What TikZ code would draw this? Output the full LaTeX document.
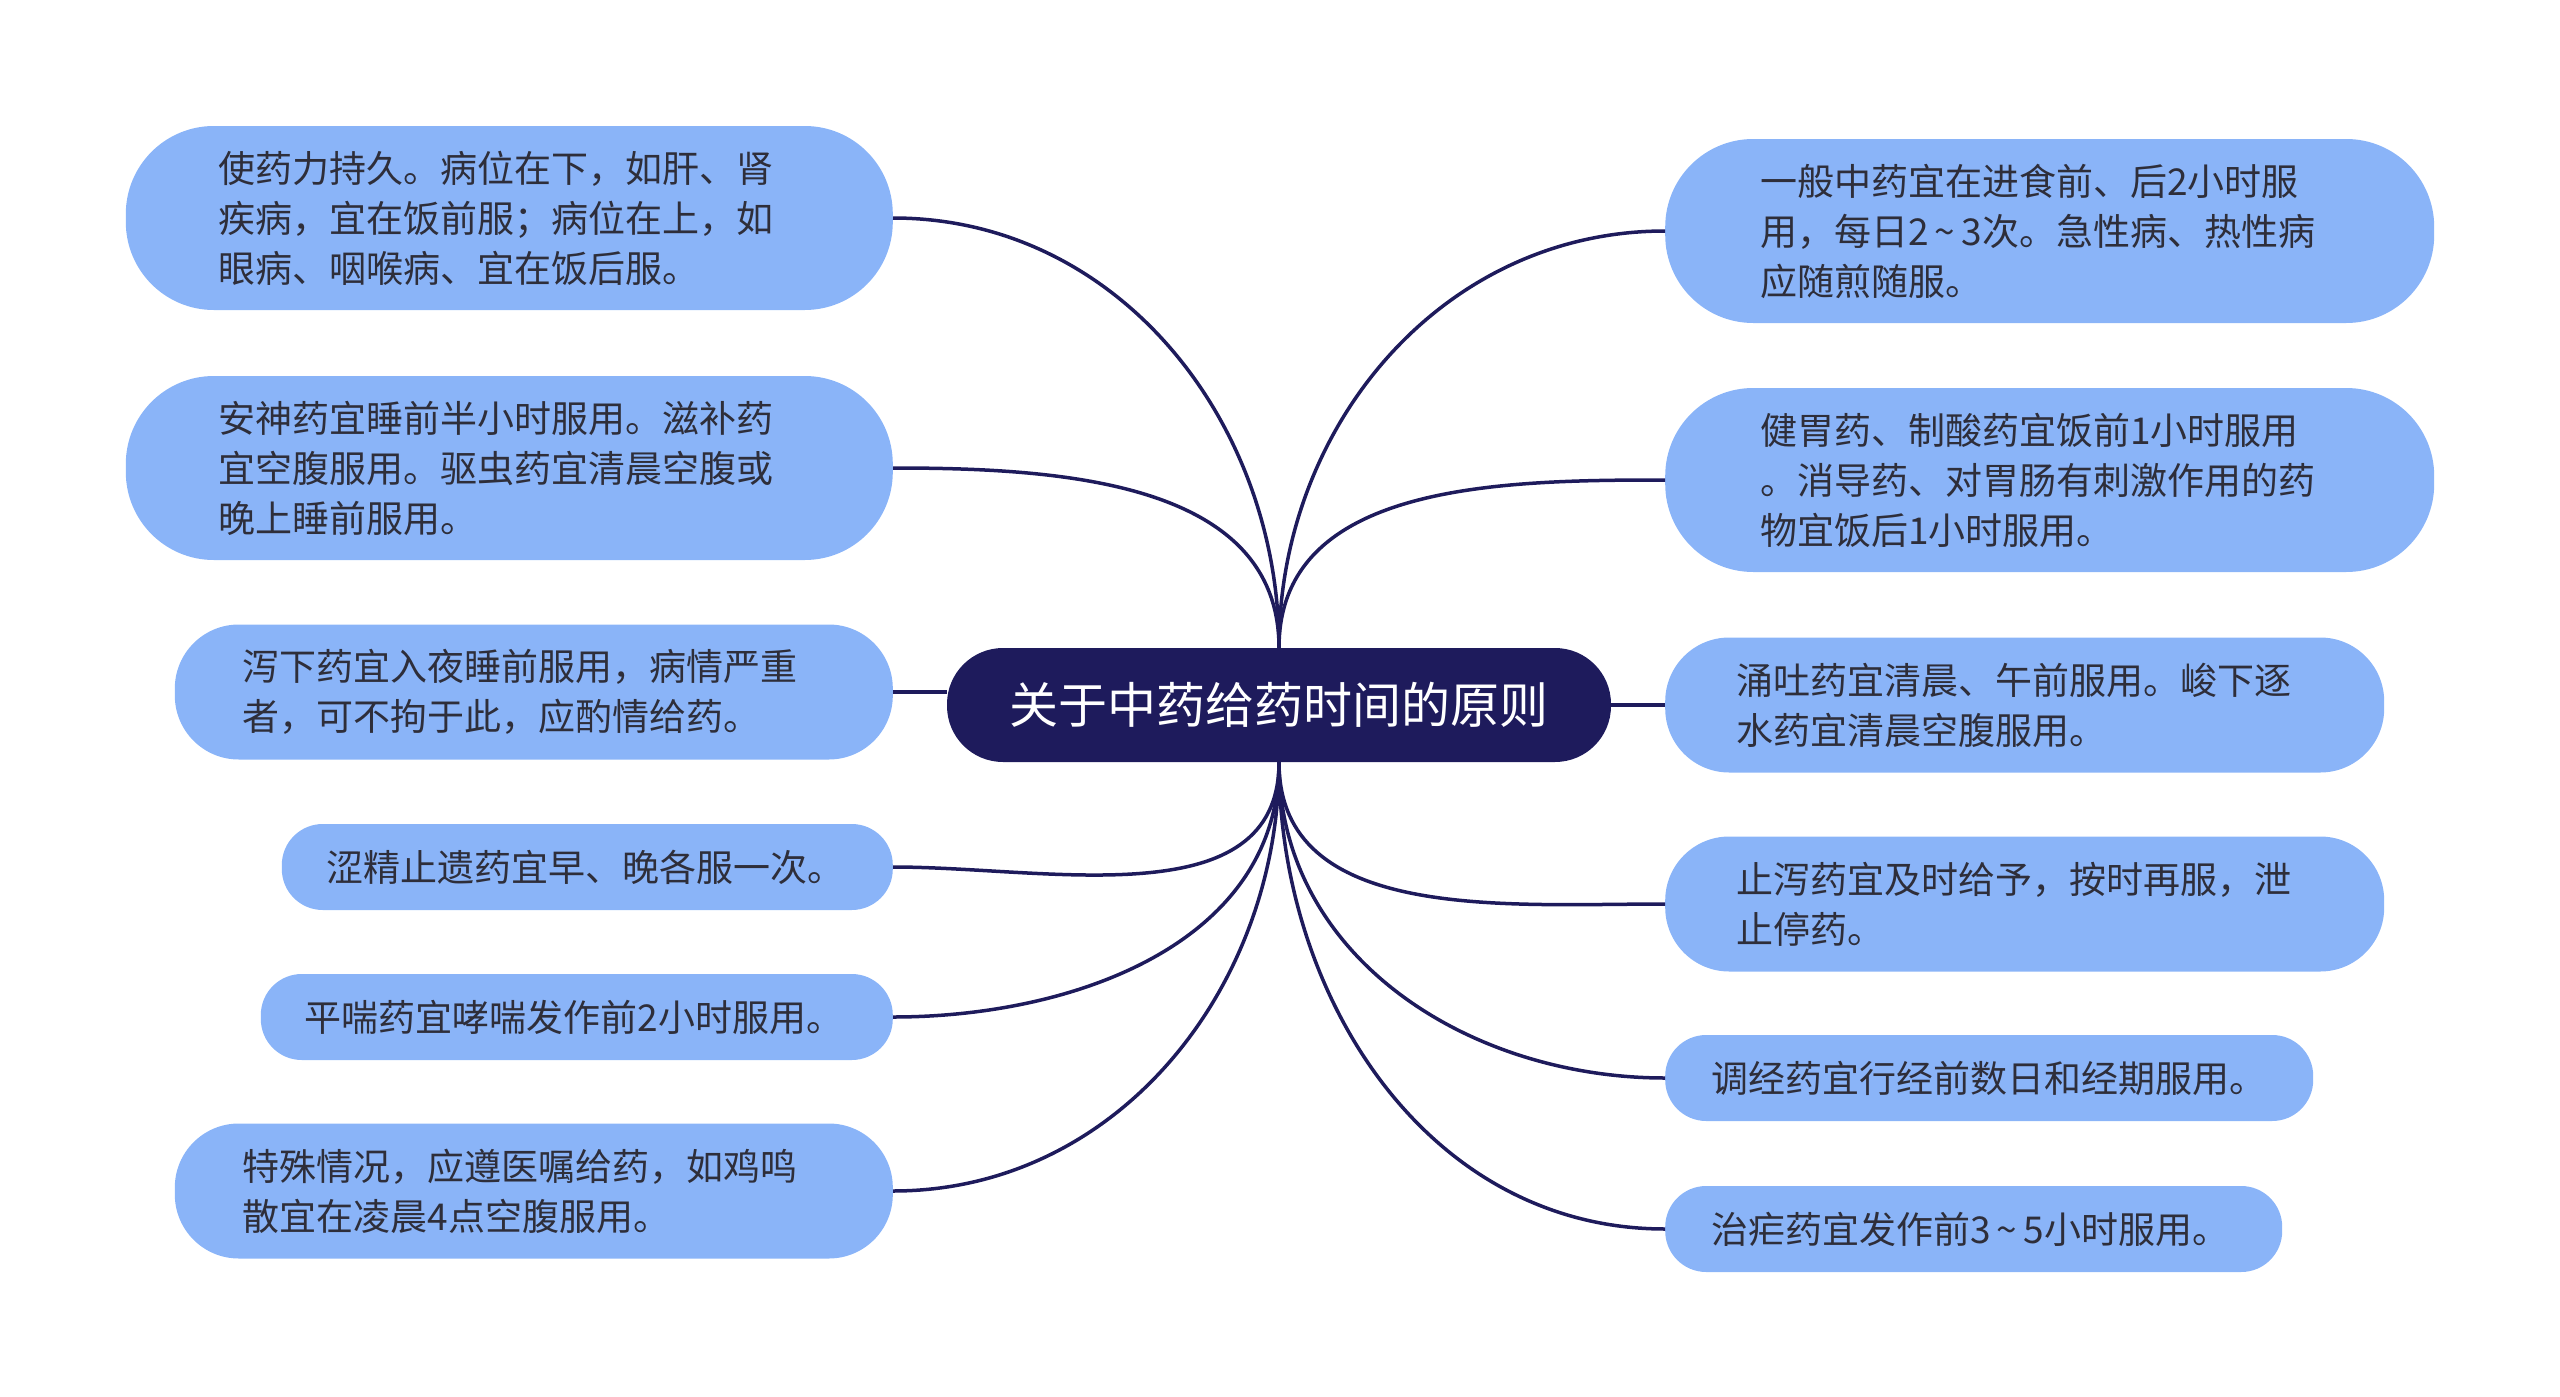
\documentclass[tikz,border=0pt]{standalone}
\usepackage{fontspec}
\setmainfont{Noto Sans CJK SC}
\usepackage{tikz}
\usetikzlibrary{positioning}
\definecolor{tmnavy}{HTML}{1E1B5C}
\definecolor{tmblue}{HTML}{8AB4F8}
\definecolor{tmtext}{HTML}{2E2E3A}

\begin{document}
\begin{tikzpicture}[x=1pt, y=-1pt,
  root/.style={rectangle, rounded corners=56pt, fill=tmnavy, text=white, minimum width=664pt, minimum height=114pt, inner sep=0pt, font=\fontsize{49}{60}\selectfont},
  leaf/.style={rectangle, fill=tmblue, text=tmtext, inner sep=0pt, align=left, font=\fontsize{37}{50}\selectfont},
  leafthree/.style={leaf, minimum height=184pt, rounded corners=88pt},
  leaftwo/.style={leaf, minimum height=135pt, rounded corners=64pt},
  leafone/.style={leaf, minimum height=86pt, rounded corners=41pt},
  link/.style={draw=tmnavy, line width=3.5pt}]
\useasboundingbox (0,0) rectangle (2560,1397);
\node[root] (c) at (1279,705) {关于中药给药时间的原则};
\node[leafthree, anchor=east, minimum width=767pt, text width=581pt] (l1) at (893,218) {使药力持久。病位在下，如肝、肾\\疾病，宜在饭前服；病位在上，如\\眼病、咽喉病、宜在饭后服。};
\node[leafthree, anchor=east, minimum width=767pt, text width=581pt] (l2) at (893,468) {安神药宜睡前半小时服用。滋补药\\宜空腹服用。驱虫药宜清晨空腹或\\晚上睡前服用。};
\node[leaftwo, anchor=east, minimum width=718pt, text width=582pt] (l3) at (893,692) {泻下药宜入夜睡前服用，病情严重\\者，可不拘于此，应酌情给药。};
\node[leafone, anchor=east, minimum width=611pt, text width=521pt] (l4) at (893,867) {涩精止遗药宜早、晚各服一次。};
\node[leafone, anchor=east, minimum width=632pt, text width=544pt] (l5) at (893,1017) {平喘药宜哮喘发作前2小时服用。};
\node[leaftwo, anchor=east, minimum width=718pt, text width=582pt] (l6) at (893,1191) {特殊情况，应遵医嘱给药，如鸡鸣\\散宜在凌晨4点空腹服用。};
\node[leafthree, anchor=west, minimum width=769pt, text width=579pt] (r1) at (1665,231) {一般中药宜在进食前、后2小时服\\用，每日2{\,\textasciitilde\,}3次。急性病、热性病\\应随煎随服。};
\node[leafthree, anchor=west, minimum width=769pt, text width=579pt] (r2) at (1665,480) {健胃药、制酸药宜饭前1小时服用\\。消导药、对胃肠有刺激作用的药\\物宜饭后1小时服用。};
\node[leaftwo, anchor=west, minimum width=719pt, text width=577pt] (r3) at (1665,705) {涌吐药宜清晨、午前服用。峻下逐\\水药宜清晨空腹服用。};
\node[leaftwo, anchor=west, minimum width=719pt, text width=577pt] (r4) at (1665,904) {止泻药宜及时给予，按时再服，泄\\止停药。};
\node[leafone, anchor=west, minimum width=648pt, text width=556pt] (r5) at (1665,1078) {调经药宜行经前数日和经期服用。};
\node[leafone, anchor=west, minimum width=617pt, text width=525pt] (r6) at (1665,1229) {治疟药宜发作前3{\,\textasciitilde\,}5小时服用。};
\draw[link] (c.north) to[out=90, in=0] (l1.east);
\draw[link] (c.north) to[out=90, in=0] (l2.east);
\draw[link] (l3.east) -- (l3.east -| c.west);
\draw[link] (c.south) to[out=-90, in=0] (l4.east);
\draw[link] (c.south) to[out=-90, in=0] (l5.east);
\draw[link] (c.south) to[out=-90, in=0] (l6.east);
\draw[link] (c.north) to[out=90, in=180] (r1.west);
\draw[link] (c.north) to[out=90, in=180] (r2.west);
\draw[link] (r3.west) -- (r3.west -| c.east);
\draw[link] (c.south) to[out=-90, in=180] (r4.west);
\draw[link] (c.south) to[out=-90, in=180] (r5.west);
\draw[link] (c.south) to[out=-90, in=180] (r6.west);
\end{tikzpicture}
\end{document}
